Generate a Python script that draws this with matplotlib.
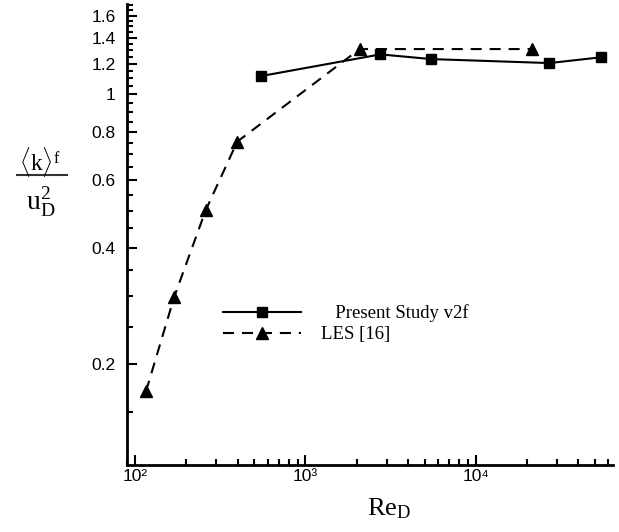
import numpy as np
import matplotlib
matplotlib.use("Agg")
import matplotlib.pyplot as plt
from matplotlib import font_manager
from matplotlib.lines import Line2D
from matplotlib.ticker import FixedLocator, FuncFormatter, LogLocator, NullFormatter

# Turbulent kinetic energy (normalised) versus Reynolds number
re_v2f = [548, 2755, 5480, 27000, 54000]
k_v2f = [1.115, 1.269, 1.234, 1.205, 1.247]
re_les = [116, 170, 260, 398, 2080, 21300]
k_les = [0.170, 0.299, 0.501, 0.754, 1.31, 1.31]
series_names = ["Present Study v2f", "LES [16]"]
y_major = [0.2, 0.4, 0.6, 0.8, 1.0, 1.2, 1.4, 1.6]
x_major = [1e2, 1e3, 1e4]

plt.rcParams["mathtext.fontset"] = "custom"
plt.rcParams["mathtext.rm"] = "Liberation Serif"
plt.rcParams["mathtext.it"] = "Liberation Serif:italic"
plt.rcParams["mathtext.bf"] = "Liberation Serif:bold"

installed = {f.name for f in font_manager.fontManager.ttflist}
tick_family = ["Liberation Sans Narrow", "DejaVu Sans"] if "Liberation Sans Narrow" in installed \
    else ["Liberation Sans", "DejaVu Sans"]
serif = ["Liberation Serif", "DejaVu Serif"]

W, H = 619, 532
fig = plt.figure(figsize=(W / 100, H / 100), dpi=100)
fig.patch.set_facecolor("white")
ax = fig.add_axes([126.7 / W, 67 / H, 486.3 / W, 461 / H])

dash = (0, (5.3, 3.8))
ax.plot(re_v2f, k_v2f, color="k", lw=1.5, marker="s", ms=7.2,
        label="   " + series_names[0])
ax.plot(re_les, k_les, color="k", lw=1.5, ls=dash, marker="^", ms=8,
        label=series_names[1])

ax.set_xscale("log")
ax.set_yscale("log")
ax.set_xlim(89.4, 63800)
ax.set_ylim(0.1096, 1.714)

# y axis: labelled majors, minor ticks every 0.05
ax.yaxis.set_major_locator(FixedLocator(y_major))
ax.yaxis.set_major_formatter(FuncFormatter(lambda v, _: "%g" % v))
y_minor = [m for m in np.round(np.arange(0.15, 1.7001, 0.05), 2)
           if not any(abs(m - j) < 1e-6 for j in y_major)]
ax.yaxis.set_minor_locator(FixedLocator(y_minor))
ax.yaxis.set_minor_formatter(NullFormatter())

# x axis: decades with superscript exponents
sup = {2: "\u00b2", 3: "\u00b3", 4: "\u2074"}
ax.xaxis.set_major_locator(FixedLocator(x_major))
ax.xaxis.set_major_formatter(FuncFormatter(lambda v, _: "10" + sup[int(round(np.log10(v)))]))
ax.xaxis.set_minor_locator(LogLocator(base=10, subs=range(2, 10)))
ax.xaxis.set_minor_formatter(NullFormatter())

for side in ("top", "right"):
    ax.spines[side].set_visible(False)
for side in ("left", "bottom"):
    ax.spines[side].set_linewidth(2)

ax.tick_params(which="both", direction="in", width=1.5, color="k")
ax.tick_params(which="major", length=7.5)
ax.tick_params(which="minor", length=4.5)
ax.tick_params(axis="y", which="major", pad=8)
ax.tick_params(axis="x", which="major", pad=3)
for lab in ax.get_xticklabels() + ax.get_yticklabels():
    lab.set_family(tick_family)
    lab.set_fontsize(12.5)

leg = ax.legend(loc="upper left", bbox_to_anchor=(223 / W, 1 - 304.5 / H),
                bbox_transform=fig.transFigure, frameon=False,
                prop={"family": serif, "size": 13.5},
                handlelength=4.16, handletextpad=1.07, labelspacing=0.2,
                borderpad=0, borderaxespad=0)

# axis titles
fig.text(367 / W, 1 - 515 / H, r"$\mathrm{Re}_{\mathrm{D}}$", fontsize=19,
         ha="left", va="baseline")
fig.text(40 / W, 1 - 171 / H, r"$\langle\mathrm{k}\rangle^{\mathrm{f}}$", fontsize=17,
         ha="center", va="baseline")
fig.add_artist(Line2D([17 / W, 67 / W], [1 - 175 / H, 1 - 175 / H],
                      transform=fig.transFigure, color="#333333", lw=1.5))
fig.text(41 / W, 1 - 210 / H, r"$\mathrm{u}_{\mathrm{D}}^{2}$", fontsize=20,
         ha="center", va="baseline")

fig.savefig("out.png", dpi=100, facecolor="white")
